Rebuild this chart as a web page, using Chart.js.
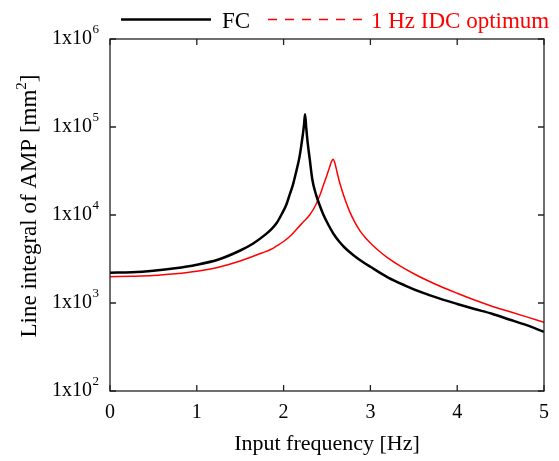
<!DOCTYPE html>
<html>
<head>
<meta charset="utf-8">
<script src="https://cdn.jsdelivr.net/npm/chart.js@4.4.0/dist/chart.umd.min.js"></script>
<style>
  html, body { margin: 0; padding: 0; background: #fff; }
  #wrap { width: 559px; height: 461px; }
</style>
</head>
<body>
<div id="wrap"><canvas id="chart" width="559" height="461"></canvas></div>
<script>
// Series labels.
const seriesLabels = ['FC', '1 Hz IDC optimum'];
// FC curve (Hz, mm^2).
const fcFreq = [0, 0.25, 0.5, 0.75, 1.0, 1.25, 1.5, 1.65, 1.8, 1.86, 1.92, 1.98, 2.03, 2.07, 2.107, 2.15, 2.18, 2.2, 2.22, 2.235, 2.247,
    2.26, 2.276, 2.3, 2.332, 2.37, 2.407, 2.46, 2.52, 2.58, 2.64, 2.7, 2.76, 2.82, 2.9, 3.0, 3.2, 3.4, 3.6, 3.8, 4.0, 4.2, 4.4, 4.6, 4.8, 5.0];
const fcValue = [2210, 2240, 2330, 2480, 2720, 3120, 3950, 4750, 6100, 6900, 8100, 10300, 13000, 17000, 22000, 32500, 44000, 58000, 80000, 105000, 140000,
    100000, 68000, 44000, 25000, 17500, 13600, 10000, 7600, 6000, 5000, 4300, 3800, 3400, 2980, 2580, 1960, 1580, 1310, 1120, 975, 855, 755, 650, 560, 470];
// 1 Hz IDC optimum curve.
const idcFreq = [0, 0.25, 0.5, 0.75, 1.0, 1.25, 1.5, 1.75, 1.85, 1.92, 2.0, 2.08, 2.15, 2.22, 2.3, 2.37, 2.42, 2.46, 2.5, 2.53, 2.55, 2.57,
    2.59, 2.615, 2.64, 2.67, 2.71, 2.76, 2.82, 2.88, 2.95, 3.02, 3.1, 3.2, 3.35, 3.5, 3.7, 3.85, 4.0, 4.2, 4.4, 4.6, 4.8, 5.0];
const idcValue = [1990, 2010, 2050, 2150, 2300, 2550, 3000, 3700, 4050, 4450, 5000, 5800, 6900, 8200, 10000, 13000, 17000, 22000, 28500, 35000, 40000, 43000,
    39000, 31000, 24500, 19500, 14800, 11000, 8300, 6600, 5400, 4600, 3900, 3250, 2600, 2150, 1720, 1480, 1290, 1080, 920, 800, 695, 603];
// Axis ticks.
const xTicks = [0, 1, 2, 3, 4, 5];
const yTicks = [1e2, 1e3, 1e4, 1e5, 1e6];

const serif = '"Liberation Serif", "DejaVu Serif", serif';

// Draws the frame with inward ticks, the y tick labels, the y title and the legend.
const decorations = {
    id: 'decorations',
    afterDraw( chart ) {
        const ctx = chart.ctx;
        const a = chart.chartArea;
        const xs = chart.scales.x;
        const ys = chart.scales.y;
        ctx.save();
        ctx.strokeStyle = '#222';
        ctx.lineWidth = 1.3;
        ctx.strokeRect( a.left, a.top, a.right - a.left, a.bottom - a.top );
        ctx.beginPath();
        xTicks.forEach( v => {
            const px = xs.getPixelForValue( v );
            ctx.moveTo( px, a.bottom ); ctx.lineTo( px, a.bottom - 6 );
            ctx.moveTo( px, a.top ); ctx.lineTo( px, a.top + 6 );
        });
        yTicks.forEach( v => {
            const py = ys.getPixelForValue( v );
            ctx.moveTo( a.left, py ); ctx.lineTo( a.left + 6, py );
            ctx.moveTo( a.right, py ); ctx.lineTo( a.right - 6, py );
        });
        ctx.stroke();

        // Y tick labels as 1x10^n.
        ctx.fillStyle = '#000';
        yTicks.forEach( v => {
            const py = ys.getPixelForValue( v );
            ctx.font = '20px ' + serif;
            ctx.textAlign = 'right';
            ctx.textBaseline = 'middle';
            ctx.fillText( '1x10', 92, py );
            ctx.font = '13px ' + serif;
            ctx.textAlign = 'left';
            ctx.fillText( String( Math.round( Math.log10( v ) ) ), 92.5, py - 9 );
        });

        // Y axis title with superscript.
        ctx.save();
        ctx.translate( 30, 206 );
        ctx.rotate( -Math.PI / 2 );
        ctx.textBaseline = 'middle';
        ctx.textAlign = 'left';
        const big = '23px ' + serif;
        const small = '15px ' + serif;
        const p1 = 'Line integral of AMP [mm', p2 = '2', p3 = ']';
        ctx.font = big; const w1 = ctx.measureText( p1 ).width; const w3 = ctx.measureText( p3 ).width;
        ctx.font = small; const w2 = ctx.measureText( p2 ).width;
        let x0 = -( w1 + w2 + w3 ) / 2;
        ctx.font = big; ctx.fillText( p1, x0, 0 );
        ctx.font = small; ctx.fillText( p2, x0 + w1, -8 );
        ctx.font = big; ctx.fillText( p3, x0 + w1 + w2, 0 );
        ctx.restore();

        // Legend.
        const ds = chart.data.datasets;
        ctx.font = '23px ' + serif;
        ctx.textAlign = 'left';
        ctx.textBaseline = 'middle';
        ctx.lineWidth = 2.5;
        ctx.strokeStyle = ds[0].borderColor;
        ctx.beginPath(); ctx.moveTo( 121, 19.5 ); ctx.lineTo( 211, 19.5 ); ctx.stroke();
        ctx.fillStyle = '#000';
        ctx.fillText( ds[0].label, 222, 21.5 );
        ctx.lineWidth = 1.5;
        ctx.strokeStyle = ds[1].borderColor;
        ctx.setLineDash( [9, 8] );
        ctx.beginPath(); ctx.moveTo( 268, 19.5 ); ctx.lineTo( 362, 19.5 ); ctx.stroke();
        ctx.setLineDash( [] );
        ctx.fillStyle = ds[1].borderColor;
        ctx.fillText( ds[1].label, 371, 21.5 );
        ctx.restore();
    }
};

new Chart( document.getElementById( 'chart' ), {
    type: 'line',
    data: {
        datasets: [{
            label: seriesLabels[0],
            data: fcFreq.map( ( f, i ) => ({ x: f, y: fcValue[i] }) ),
            borderColor: '#000000',
            borderWidth: 2.5,
            pointRadius: 0,
            cubicInterpolationMode: 'monotone',
            order: 1
        }, {
            label: seriesLabels[1],
            data: idcFreq.map( ( f, i ) => ({ x: f, y: idcValue[i] }) ),
            borderColor: '#ff0000',
            borderWidth: 1.5,
            pointRadius: 0,
            cubicInterpolationMode: 'monotone',
            order: 2
        }]
    },
    options: {
        responsive: false,
        animation: false,
        layout: { padding: { top: 39, right: 6, left: 0, bottom: 0 } },
        plugins: { legend: { display: false }, tooltip: { enabled: false } },
        scales: {
            x: {
                type: 'linear',
                min: 0,
                max: 5,
                afterBuildTicks: s => { s.ticks = xTicks.map( v => ({ value: v }) ); },
                afterFit: s => { s.height = 70; },
                grid: { display: false, drawTicks: false },
                border: { display: false },
                ticks: { font: { family: serif, size: 20 }, color: '#000', padding: 10 },
                title: { display: true, text: 'Input frequency [Hz]', color: '#000',
                    font: { family: serif, size: 22 }, padding: { top: 0, bottom: 4 } }
            },
            y: {
                type: 'logarithmic',
                min: 100,
                max: 1e6,
                afterBuildTicks: s => { s.ticks = yTicks.map( v => ({ value: v }) ); },
                afterFit: s => { s.width = 110; },
                grid: { display: false, drawTicks: false },
                border: { display: false },
                ticks: { display: false }
            }
        }
    },
    plugins: [decorations]
});
</script>
</body>
</html>
